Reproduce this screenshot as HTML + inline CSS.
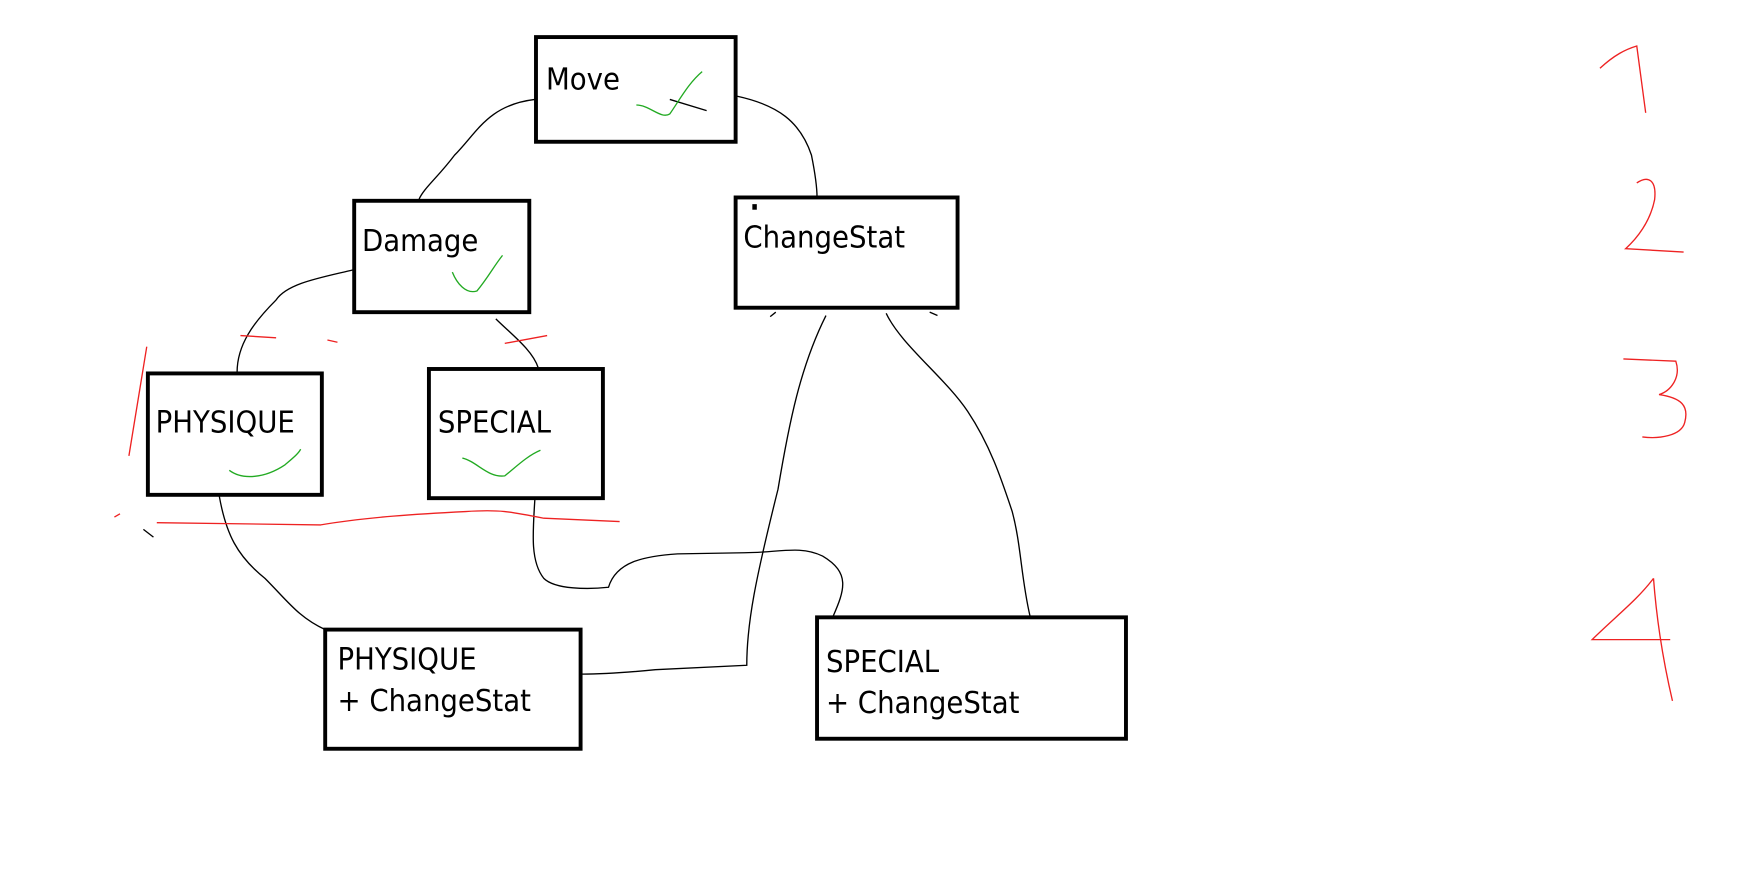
<!DOCTYPE html>
<html><head><meta charset="utf-8"><style>
html,body{margin:0;padding:0;background:#fff;width:1744px;height:878px;overflow:hidden}
svg{display:block}
text{font-family:"DejaVu Sans Condensed","Liberation Sans",sans-serif;font-size:27.5px;fill:#000}
</style></head><body>
<svg width="1744" height="878" viewBox="0 0 1552 781" preserveAspectRatio="none">
<g transform="translate(-2.4,-0.7) scale(0.9925,0.9907)">
<g fill="none" stroke="#000" stroke-width="3.5">
<rect x="483" y="34" width="179" height="94"/>
<rect x="320" y="181" width="157" height="100"/>
<rect x="662" y="178" width="199" height="99"/>
<rect x="135" y="336" width="156" height="109"/>
<rect x="387" y="332" width="156" height="116"/>
<rect x="294" y="566" width="229" height="107"/>
<rect x="735" y="555" width="277" height="109"/>
</g>
<g fill="none" stroke="#000" stroke-width="1.2">
<path d="M482,90 C440,95 430,120 410,140 C395,160 382,170 378,180"/>
<path d="M663,87 C700,95 720,110 730,140 C733,155 735,170 735,178"/>
<path d="M319,243 C290,250 260,255 250,270 C230,290 215,310 215,335"/>
<path d="M447,287 C460,300 480,315 485,331"/>
<path d="M743,284 C720,330 710,380 700,440 C680,520 672,560 672,598 L590,602 C560,605 540,606 524,606"/>
<path d="M797,282 C810,310 850,340 870,370 C890,400 900,430 910,460 C918,490 918,520 926,554"/>
<path d="M199,446 C205,480 215,500 240,520 C260,540 270,555 294,566"/>
<path d="M482,449 C480,480 478,505 490,520 C500,530 530,530 548,528 C555,505 580,500 610,498 L670,497 C700,497 720,490 740,500 C765,515 760,530 749,555"/>
<path d="M693,285 L698,281 M836,281 L843,284 M603,90 L636,100 M131,476 L140,483"/>
</g>
<rect x="677" y="184" width="4" height="5" fill="#000"/>
<g fill="none" stroke="#2a2" stroke-width="1.2">
<path d="M573,95 C585,95 595,108 603,103 C612,90 620,75 632,65"/>
<path d="M408,245 C412,255 420,265 430,262 C440,250 445,240 453,230"/>
<path d="M208,423 C220,432 240,430 258,418 C265,412 270,408 272,404"/>
<path d="M417,412 C430,415 440,430 455,428 C465,420 475,410 487,405"/>
</g>
<g fill="none" stroke="#e22" stroke-width="1.2">
<path d="M143,470 L290,472 C330,465 380,462 420,460 C450,458 460,460 490,466 L558,469"/>
<path d="M218,302 L250,304 M296,306 L305,308 M455,309 L493,302 M134,312 L118,410 M110,462 L105,465"/>
<path d="M1437,62 C1450,50 1460,45 1470,42 L1478,102"/>
<path d="M1470,165 C1480,158 1488,162 1486,180 C1482,200 1470,215 1460,224 L1512,227"/>
<path d="M1458,323 L1505,325 C1510,340 1500,352 1490,355 C1510,358 1517,365 1513,380 C1510,392 1490,395 1475,393"/>
<path d="M1485,520 C1470,540 1450,555 1430,575 L1500,575 M1485,520 C1488,560 1495,600 1502,630"/>
</g>
<text x="492" y="81">Move</text>
<text x="327" y="226">Damage</text>
<text x="669" y="223">ChangeStat</text>
<text x="142" y="389">PHYSIQUE</text>
<text x="395" y="389">SPECIAL</text>
<text x="305" y="602">PHYSIQUE</text>
<text x="305" y="639">+ ChangeStat</text>
<text x="743" y="604">SPECIAL</text>
<text x="743" y="641">+ ChangeStat</text>
</g>
</svg>
</body></html>
